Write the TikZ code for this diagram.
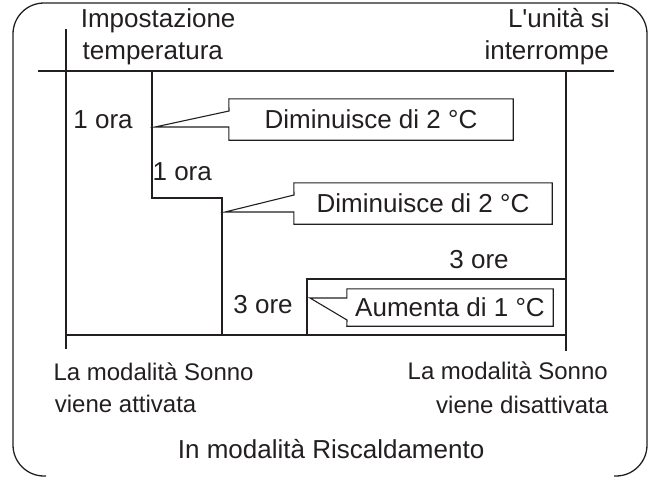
\documentclass[tikz,border=0pt]{standalone}
\usepackage{fontspec}
\setmainfont{Liberation Sans}[Ligatures=TeXOff]
\definecolor{ink}{HTML}{231F20}
\begin{document}
\begin{tikzpicture}[x=1pt,y=-1pt,
  frame/.style={draw=ink,line width=1.3pt,rounded corners=31pt},
  axis/.style={draw=ink,line width=1.1pt},
  stepline/.style={draw=ink,line width=1.8pt},
  callout/.style={draw=ink,line width=1.1pt,line join=miter},
  lbl/.style={inner sep=0pt,text=ink,font=\fontsize{26}{32}\selectfont},
  small/.style={inner sep=0pt,text=ink,font=\fontsize{24}{30}\selectfont},
  boxnode/.style={inner sep=0pt,text=ink,font=\fontsize{26}{32}\selectfont}]
\useasboundingbox (0,0) rectangle (652,477);
% outer frame (bottom edge lies on the picture's lower border)
\draw[frame] (46,476) -- (13,476) -- (13,3) -- (647,3) -- (647,476) -- (614,476);
% axes
\coordinate (ytop) at (66,29);
\coordinate (ybot) at (66,349);
\coordinate (hl) at (38,71);
\coordinate (hr) at (614,71);
\coordinate (rtop) at (566,71);
\coordinate (rbot) at (566,351);
\coordinate (bl) at (66,335);
\coordinate (br) at (566,335);
\draw[axis] (ytop) -- (ybot);
\draw[axis] (hl) -- (hr);
\draw[axis] (rtop) -- (rbot);
\draw[axis] (bl) -- (br);
% temperature steps
\coordinate (s0) at (152,71);
\coordinate (s1) at (152,198);
\coordinate (s2) at (222,198);
\coordinate (s3) at (222,335);
\coordinate (u0) at (307,335);
\coordinate (u1) at (307,279);
\coordinate (u2) at (566,279);
\draw[stepline] (s0) -- (s1) -- (s2) -- (s3);
\draw[stepline] (u0) -- (u1) -- (u2);
% callout boxes
\node[boxnode,minimum width=284pt,minimum height=41pt] (b1) at (371,119.5) {Diminuisce di 2 °C};
\node[boxnode,minimum width=258pt,minimum height=41pt] (b2) at (423,203.5) {Diminuisce di 2 °C};
\node[boxnode,minimum width=206pt,minimum height=37pt] (b3) at (450,307.5) {Aumenta di 1 °C};
\coordinate (t1) at (155,127);
\coordinate (t2) at (225,212);
\coordinate (t3) at (310,298);
\draw[callout] (b1.north west) -- (b1.north east) -- (b1.south east) -- (b1.south west)
  -- (b1.west |- t1) -- (t1) -- (229,111) -- cycle;
\draw[callout] (b2.north west) -- (b2.north east) -- (b2.south east) -- (b2.south west)
  -- (b2.west |- t2) -- (t2) -- (294,195) -- cycle;
\draw[callout] (b3.north west) -- (b3.north east) -- (b3.south east) -- (b3.south west)
  -- (347,320) -- (t3) -- (b3.west |- t3) -- cycle;
% labels
\node[lbl,anchor=base west] (imp) at (80.6,27) {Impostazione};
\node[lbl,anchor=base west] (temp) at (82.5,59) {temperatura};
\node[lbl,anchor=base east] (unit) at (610,27) {L'unità si};
\node[lbl,anchor=base east] (intr) at (609,59) {interrompe};
\node[lbl,anchor=base west] (h1) at (73.2,128) {1 ora};
\node[lbl,anchor=base west] (h2) at (152.4,180) {1 ora};
\node[lbl,anchor=base west] (h3) at (233.2,313) {3 ore};
\node[lbl,anchor=base west] (h4) at (449.2,268) {3 ore};
\node[small,anchor=base west] (on1) at (53.3,380) {La modalità Sonno};
\node[small,anchor=base west] (on2) at (54.7,412) {viene attivata};
\node[small,anchor=base east] (off1) at (608,379.5) {La modalità Sonno};
\node[small,anchor=base east] (off2) at (608.5,413) {viene disattivata};
\node[lbl,anchor=base west] (mode) at (177.7,458) {In modalità Riscaldamento};
\end{tikzpicture}
\end{document}
